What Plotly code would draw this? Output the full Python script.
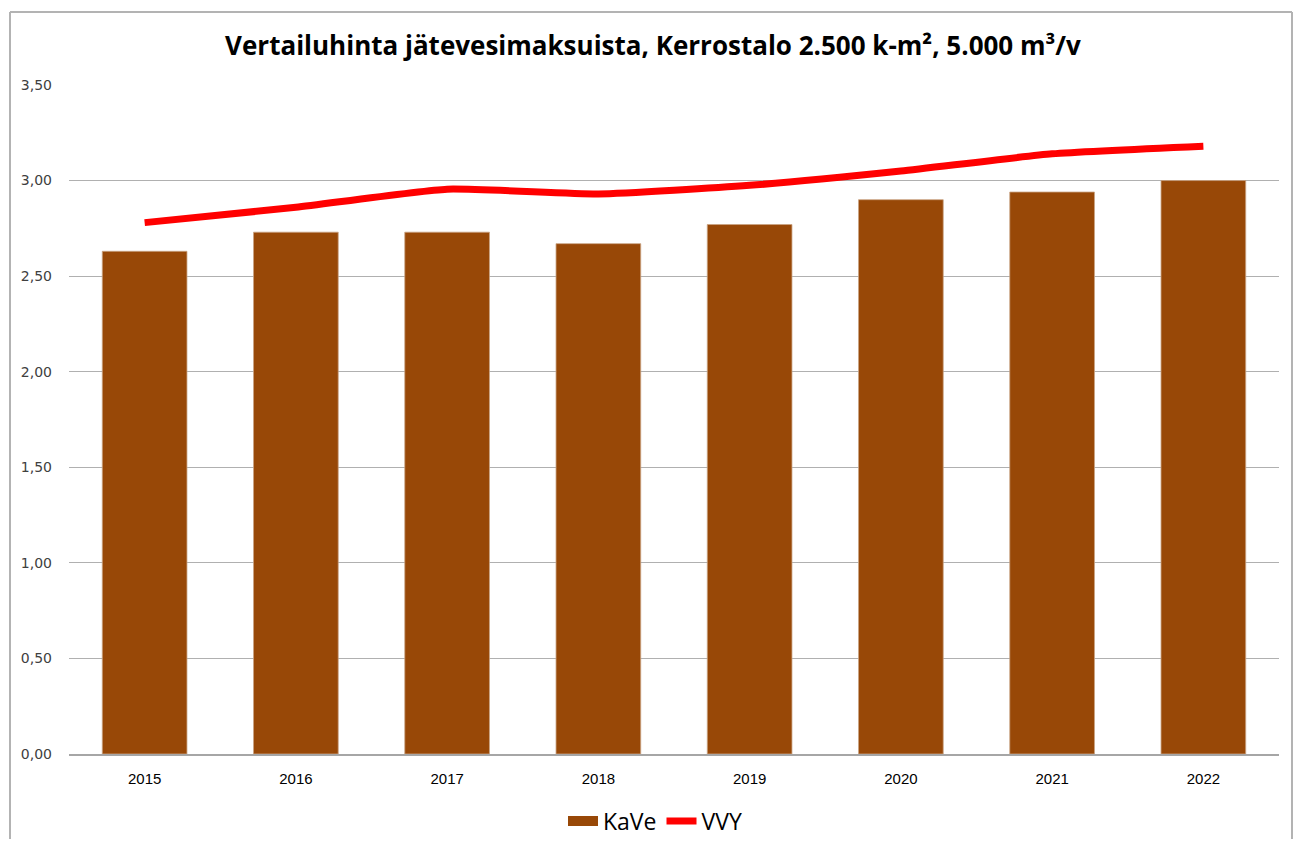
import plotly.graph_objects as go

years = ["2015", "2016", "2017", "2018", "2019", "2020", "2021", "2022"]
kave = [2.63, 2.73, 2.73, 2.67, 2.77, 2.90, 2.94, 3.00]
vvy = [2.78, 2.86, 2.955, 2.93, 2.975, 3.05, 3.14, 3.18]
y_ticks = [0, 0.5, 1.0, 1.5, 2.0, 2.5, 3.0, 3.5]

OFF = 8  # default body margin of the html page (on every side)
PAGE_W, PAGE_H = 1301, 847
W, H = PAGE_W - 2 * OFF, PAGE_H - 2 * OFF
# plot area in page pixels: x 69..1279, y 85..754
L, R, T, B = 69 - OFF, (OFF + W) - 1279, 85 - OFF, (OFF + H) - 754
pw, ph = W - L - R, H - T - B

BROWN = "#984807"

fig = go.Figure()
fig.add_trace(go.Bar(x=years, y=kave, name="KaVe", marker_color=BROWN,
                     marker_line_color="#c9a383", marker_line_width=0.8,
                     showlegend=False))
# legend proxy for the bar series (wide rectangle swatch)
fig.add_trace(go.Scatter(x=[None], y=[None], name="KaVe", mode="lines",
                         line=dict(color=BROWN, width=16)))
fig.add_trace(go.Scatter(x=years, y=vvy, name="VVY", mode="lines",
                         line=dict(color="#ff0000", width=7, shape="spline", smoothing=0.5)))

def px(x):  # page x -> paper
    return (x - OFF - L) / pw

def py(y):  # page y -> paper
    return (H - B - (y - OFF)) / ph

# chart border: left, top and right edges (bottom edge lies outside the picture)
border = dict(color="#b3b3b3", width=2)
x_l, x_r, y_t, y_b = px(10), px(OFF + W - 1), py(12), py(OFF + H)
fig.add_shape(type="line", xref="paper", yref="paper", x0=x_l, x1=x_l, y0=y_t, y1=y_b, line=border, layer="below")
fig.add_shape(type="line", xref="paper", yref="paper", x0=x_l, x1=x_r, y0=y_t, y1=y_t, line=border, layer="below")
fig.add_shape(type="line", xref="paper", yref="paper", x0=x_r, x1=x_r, y0=y_t, y1=y_b, line=border, layer="below")

fig.update_layout(
    width=W, height=H,
    margin=dict(l=L, r=R, t=T, b=B, autoexpand=False),
    paper_bgcolor="white", plot_bgcolor="white",
    separators=", ",
    bargap=0.44,
    title=dict(text="<b>Vertailuhinta jätevesimaksuista, Kerrostalo 2.500 k-m², 5.000 m³/v</b>",
               x=(653 - OFF) / W, xref="container", xanchor="center",
               y=1 - (46 - OFF) / H, yanchor="middle",
               font=dict(family="Open Sans", size=26, color="#000000")),
    font=dict(family="DejaVu Sans", color="#404040"),
    xaxis=dict(showgrid=False, showline=True, linecolor="#a6a6a6", linewidth=1.5,
               ticks="", ticklabelstandoff=10,
               tickfont=dict(family="Liberation Sans", size=15, color="#000000")),
    yaxis=dict(range=[0, 3.5], tickvals=y_ticks, tickformat=".2f", showgrid=True,
               gridcolor="#b0b0b0", gridwidth=1, zeroline=False, showline=False,
               ticks="", ticklabelstandoff=16,
               tickfont=dict(family="DejaVu Sans", size=14, color="#404040")),
    legend=dict(orientation="h", xref="container", yref="container",
                x=(655 - OFF) / W, xanchor="center",
                y=1 - (821 - OFF) / H, yanchor="middle",
                font=dict(family="Open Sans", size=23, color="#000000"),
                itemwidth=30, traceorder="normal"),
)

fig.write_html("out.html")
